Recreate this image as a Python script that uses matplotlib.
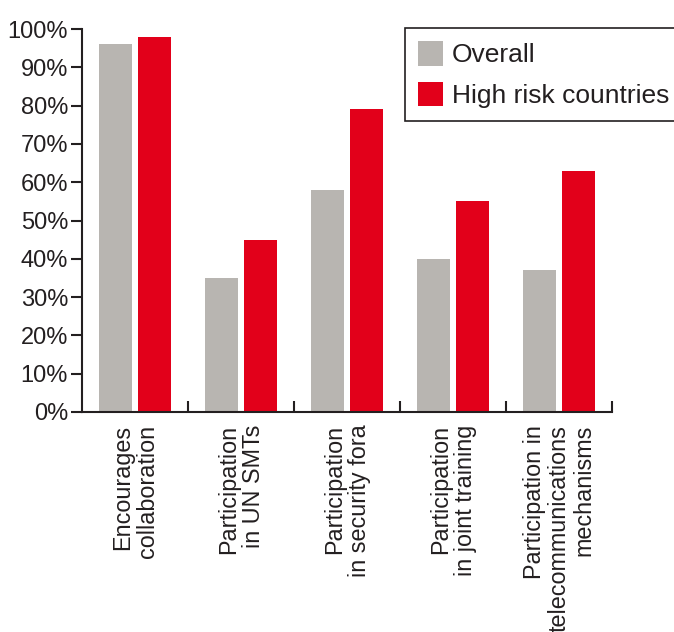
import numpy as np
import matplotlib.pyplot as plt

plt.rcParams['font.family'] = ['Liberation Sans', 'DejaVu Sans']

categories = ['Encourages\ncollaboration',
              'Participation\nin UN SMTs',
              'Participation\nin security fora',
              'Participation\nin joint training',
              'Participation in\ntelecommunications\nmechanisms']
overall = [96, 35, 58, 40, 37]
high_risk = [98, 45, 79, 55, 63]
yticks = [0, 10, 20, 30, 40, 50, 60, 70, 80, 90, 100]

grey = '#b8b5b1'
red = '#e2001a'
ink = '#231f20'

fig = plt.figure(figsize=(6.74, 6.32), dpi=100)
ax = fig.add_axes([82 / 674, 1 - 412 / 632, 530 / 674, 383 / 632])

ind = np.arange(len(categories))
width = 0.32
off = 0.184
ax.bar(ind - off, overall, width, color=grey, label='Overall')
ax.bar(ind + off, high_risk, width, color=red, label='High risk countries')

ax.set_xlim(-0.5, len(categories) - 0.5)
ax.set_ylim(0, 100)
ax.set_yticks(yticks)
ax.set_yticklabels(['%d%%' % v for v in yticks], fontsize=17, color=ink)
ax.tick_params(axis='y', direction='out', length=8, width=1.5, pad=2,
               color=ink)

# group dividers as inward ticks on the x axis
ax.set_xticks(ind + 0.5)
ax.set_xticklabels([])
ax.tick_params(axis='x', direction='in', length=8, width=1.5, color=ink)

for s in ['top', 'right']:
    ax.spines[s].set_visible(False)
for s in ['left', 'bottom']:
    ax.spines[s].set_linewidth(1.5)
    ax.spines[s].set_color(ink)

for i, lab in enumerate(categories):
    ax.text(i, -3.3, lab, rotation=90, ha='center', va='top',
            multialignment='right', fontsize=16.8, color=ink,
            linespacing=1.1)

leg = ax.legend(loc='upper left', bbox_to_anchor=(405 / 674, 1 - 28 / 632),
                bbox_transform=fig.transFigure, fontsize=19, frameon=True,
                fancybox=False, framealpha=1, edgecolor=ink,
                handlelength=0.95, handleheight=1.05, handletextpad=0.34,
                labelspacing=0.55, borderpad=0.5, borderaxespad=0)
leg.get_frame().set_linewidth(1.2)
for t in leg.get_texts():
    t.set_color(ink)

fig.savefig('out.png', dpi=100)
